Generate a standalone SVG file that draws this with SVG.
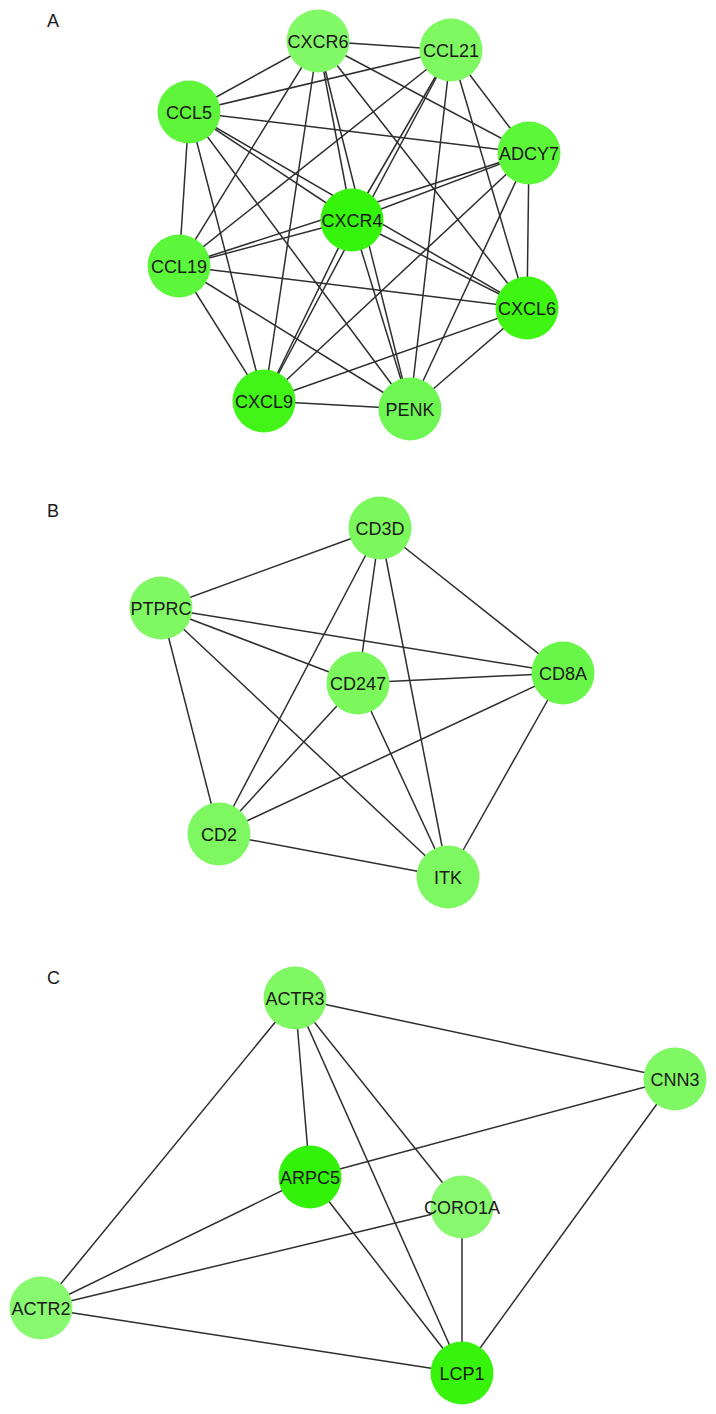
<svg xmlns="http://www.w3.org/2000/svg" width="716" height="1414" viewBox="0 0 716 1414">
<style>
.e line{stroke:#2e2e2e;stroke-width:1.5;}
.n text{font-family:"Liberation Sans",Arial,sans-serif;font-size:18px;fill:#1a1a1a;text-anchor:middle;}
.p{font-family:"Liberation Sans",Arial,sans-serif;font-size:18px;fill:#1a1a1a;}
</style>
<rect width="716" height="1414" fill="#ffffff"/>
<text class="p" x="47" y="27">A</text>
<text class="p" x="47" y="517">B</text>
<text class="p" x="47" y="984">C</text>
<g id="connectors" class="e">
<!-- Panel A: complete graph -->
<line x1="318" y1="41" x2="451" y2="50"/>
<line x1="318" y1="41" x2="189" y2="112"/>
<line x1="318" y1="41" x2="529" y2="153"/>
<line x1="318" y1="41" x2="352" y2="220"/>
<line x1="318" y1="41" x2="179" y2="266"/>
<line x1="318" y1="41" x2="527" y2="308"/>
<line x1="318" y1="41" x2="264" y2="401"/>
<line x1="318" y1="41" x2="410" y2="409"/>
<line x1="451" y1="50" x2="189" y2="112"/>
<line x1="451" y1="50" x2="529" y2="153"/>
<line x1="451" y1="50" x2="352" y2="220"/>
<line x1="451" y1="50" x2="179" y2="266"/>
<line x1="451" y1="50" x2="527" y2="308"/>
<line x1="451" y1="50" x2="264" y2="401"/>
<line x1="451" y1="50" x2="410" y2="409"/>
<line x1="189" y1="112" x2="529" y2="153"/>
<line x1="189" y1="112" x2="352" y2="220"/>
<line x1="189" y1="112" x2="179" y2="266"/>
<line x1="189" y1="112" x2="527" y2="308"/>
<line x1="189" y1="112" x2="264" y2="401"/>
<line x1="189" y1="112" x2="410" y2="409"/>
<line x1="529" y1="153" x2="352" y2="220"/>
<line x1="529" y1="153" x2="179" y2="266"/>
<line x1="529" y1="153" x2="527" y2="308"/>
<line x1="529" y1="153" x2="264" y2="401"/>
<line x1="529" y1="153" x2="410" y2="409"/>
<line x1="352" y1="220" x2="179" y2="266"/>
<line x1="352" y1="220" x2="527" y2="308"/>
<line x1="352" y1="220" x2="264" y2="401"/>
<line x1="352" y1="220" x2="410" y2="409"/>
<line x1="179" y1="266" x2="527" y2="308"/>
<line x1="179" y1="266" x2="264" y2="401"/>
<line x1="179" y1="266" x2="410" y2="409"/>
<line x1="527" y1="308" x2="264" y2="401"/>
<line x1="527" y1="308" x2="410" y2="409"/>
<line x1="264" y1="401" x2="410" y2="409"/>
<!-- Panel B -->
<line x1="161" y1="608" x2="380" y2="528"/>
<line x1="161" y1="608" x2="563" y2="673"/>
<line x1="161" y1="608" x2="358" y2="683"/>
<line x1="161" y1="608" x2="448" y2="877"/>
<line x1="161" y1="608" x2="219" y2="834"/>
<line x1="380" y1="528" x2="358" y2="683"/>
<line x1="380" y1="528" x2="219" y2="834"/>
<line x1="380" y1="528" x2="448" y2="877"/>
<line x1="380" y1="528" x2="563" y2="673"/>
<line x1="358" y1="683" x2="563" y2="673"/>
<line x1="358" y1="683" x2="219" y2="834"/>
<line x1="358" y1="683" x2="448" y2="877"/>
<line x1="563" y1="673" x2="219" y2="834"/>
<line x1="563" y1="673" x2="448" y2="877"/>
<line x1="219" y1="834" x2="448" y2="877"/>
<!-- Panel C -->
<line x1="295" y1="998" x2="675" y2="1079"/>
<line x1="295" y1="998" x2="41" y2="1308"/>
<line x1="295" y1="998" x2="310" y2="1177"/>
<line x1="295" y1="998" x2="462" y2="1373"/>
<line x1="295" y1="998" x2="462" y2="1207"/>
<line x1="675" y1="1079" x2="310" y2="1177"/>
<line x1="675" y1="1079" x2="462" y2="1373"/>
<line x1="310" y1="1177" x2="41" y2="1308"/>
<line x1="310" y1="1177" x2="462" y2="1373"/>
<line x1="462" y1="1207" x2="41" y2="1308"/>
<line x1="462" y1="1207" x2="462" y2="1373"/>
<line x1="41" y1="1308" x2="462" y2="1373"/>
</g>
<g id="CXCR6" class="n"><circle cx="318" cy="41" r="31.5" fill="#82f967"/><text x="318" y="47.5">CXCR6</text></g>
<g id="CCL21" class="n"><circle cx="451" cy="50" r="31.5" fill="#7ef962"/><text x="451" y="56.5">CCL21</text></g>
<g id="CCL5" class="n"><circle cx="189" cy="112" r="31.5" fill="#5ef53a"/><text x="189" y="118.5">CCL5</text></g>
<g id="ADCY7" class="n"><circle cx="529" cy="153" r="31.5" fill="#5cf739"/><text x="529" y="159.5">ADCY7</text></g>
<g id="CXCR4" class="n"><circle cx="352" cy="220" r="31.5" fill="#35f50b"/><text x="352" y="226.5">CXCR4</text></g>
<g id="CCL19" class="n"><circle cx="179" cy="266" r="31.5" fill="#5cf63a"/><text x="179" y="272.5">CCL19</text></g>
<g id="CXCL6" class="n"><circle cx="527" cy="308" r="31.5" fill="#3ef611"/><text x="527" y="314.5">CXCL6</text></g>
<g id="CXCL9" class="n"><circle cx="264" cy="401" r="31.5" fill="#43f418"/><text x="264" y="407.5">CXCL9</text></g>
<g id="PENK" class="n"><circle cx="410" cy="409" r="31.5" fill="#6ef752"/><text x="410" y="415.5">PENK</text></g>
<g id="CD3D" class="n"><circle cx="380" cy="528" r="31.5" fill="#7af85c"/><text x="380" y="534.5">CD3D</text></g>
<g id="PTPRC" class="n"><circle cx="161" cy="608" r="31.5" fill="#80f864"/><text x="161" y="614.5">PTPRC</text></g>
<g id="CD8A" class="n"><circle cx="563" cy="673" r="31.5" fill="#68f649"/><text x="563" y="679.5">CD8A</text></g>
<g id="CD247" class="n"><circle cx="358" cy="683" r="31.5" fill="#7af85c"/><text x="358" y="689.5">CD247</text></g>
<g id="CD2" class="n"><circle cx="219" cy="834" r="31.5" fill="#7ef860"/><text x="219" y="840.5">CD2</text></g>
<g id="ITK" class="n"><circle cx="448" cy="877" r="31.5" fill="#7ef860"/><text x="448" y="883.5">ITK</text></g>
<g id="ACTR3" class="n"><circle cx="295" cy="998" r="31.5" fill="#80f864"/><text x="295" y="1004.5">ACTR3</text></g>
<g id="CNN3" class="n"><circle cx="675" cy="1079" r="31.5" fill="#80f864"/><text x="675" y="1085.5">CNN3</text></g>
<g id="ARPC5" class="n"><circle cx="310" cy="1177" r="31.5" fill="#33f20a"/><text x="310" y="1183.5">ARPC5</text></g>
<g id="CORO1A" class="n"><circle cx="462" cy="1207" r="31.5" fill="#88f86e"/><text x="462" y="1213.5">CORO1A</text></g>
<g id="ACTR2" class="n"><circle cx="41" cy="1308" r="31.5" fill="#88f86e"/><text x="41" y="1314.5">ACTR2</text></g>
<g id="LCP1" class="n"><circle cx="462" cy="1373" r="31.5" fill="#38f30c"/><text x="462" y="1379.5">LCP1</text></g>
</svg>
